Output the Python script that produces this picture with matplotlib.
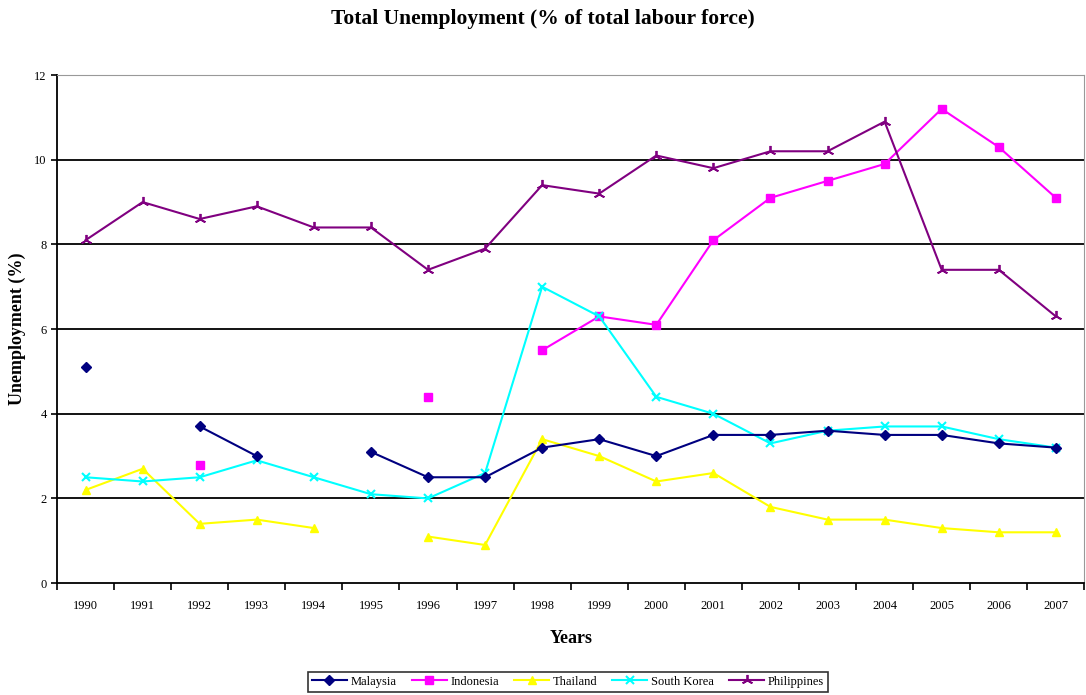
import numpy as np
import matplotlib
matplotlib.use('Agg')
import matplotlib.pyplot as plt

nan = np.nan

# Data
years = [str(y) for y in range(1990, 2008)]
malaysia    = [5.1, nan, 3.7, 3.0, nan, 3.1, 2.5, 2.5, 3.2, 3.4, 3.0, 3.5, 3.5, 3.6, 3.5, 3.5, 3.3, 3.2]
indonesia   = [nan, nan, 2.8, nan, nan, nan, 4.4, nan, 5.5, 6.3, 6.1, 8.1, 9.1, 9.5, 9.9, 11.2, 10.3, 9.1]
thailand    = [2.2, 2.7, 1.4, 1.5, 1.3, nan, 1.1, 0.9, 3.4, 3.0, 2.4, 2.6, 1.8, 1.5, 1.5, 1.3, 1.2, 1.2]
south_korea = [2.5, 2.4, 2.5, 2.9, 2.5, 2.1, 2.0, 2.6, 7.0, 6.3, 4.4, 4.0, 3.3, 3.6, 3.7, 3.7, 3.4, 3.2]
philippines = [8.1, 9.0, 8.6, 8.9, 8.4, 8.4, 7.4, 7.9, 9.4, 9.2, 10.1, 9.8, 10.2, 10.2, 10.9, 7.4, 7.4, 6.3]

plt.rcParams['font.family'] = ['Liberation Serif', 'DejaVu Serif']

fig = plt.figure(figsize=(10.86, 6.95), dpi=100)
ax = fig.add_axes([0.0525, 0.161, 0.946, 0.731])

x = np.arange(len(years))

# Series
ax.plot(x, malaysia, color='#000080', marker='D', markersize=5, lw=1.5, label='Malaysia', zorder=5)
ax.plot(x, indonesia, color='#FF00FF', marker='s', markersize=6, lw=1.5, label='Indonesia', zorder=4)
ax.plot(x, thailand, color='#FFFF00', marker='^', markersize=6, lw=1.5, label='Thailand', zorder=3)
ax.plot(x, south_korea, color='#00FFFF', marker='x', markersize=6, mew=1.5, lw=1.5, label='South Korea', zorder=4)
ax.plot(x, philippines, color='#800080', marker=(3, 2, 0), markersize=8, mew=1.3, lw=1.5, label='Philippines', zorder=5)

# Axes limits and grid
ax.set_xlim(-0.5, len(years) - 0.5)
ax.set_ylim(0, 12)
ax.set_yticks(range(0, 13, 2))
for yv in range(2, 12, 2):
    ax.axhline(yv, color='black', lw=1.3, zorder=1)

# Category labels in the middle, ticks at boundaries
ax.set_xticks(x)
ax.set_xticklabels(years, fontsize=9)
ax.set_xticks(np.arange(-0.5, len(years), 1), minor=True)
ax.tick_params(axis='x', which='major', length=0, pad=12)
ax.tick_params(axis='x', which='minor', length=5, width=1.2, direction='out')
ax.tick_params(axis='y', length=4, width=1.2, direction='out', labelsize=9)

# Spines
ax.spines['left'].set_linewidth(1.3)
ax.spines['bottom'].set_linewidth(1.3)
ax.spines['top'].set_color('#999999')
ax.spines['right'].set_color('#999999')

# Labels
ax.set_xlabel('Years', fontsize=13, fontweight='bold')
ax.xaxis.set_label_coords(0.5, -0.092)
ax.set_ylabel('Unemployment (%)', fontsize=13, fontweight='bold')
ax.yaxis.set_label_coords(-0.03, 0.5)
fig.text(0.5, 0.973, 'Total Unemployment (% of total labour force)',
         ha='center', va='center', fontsize=15.5, fontweight='bold')

# Legend
leg = fig.legend(loc='lower center', bbox_to_anchor=(0.523, -0.004), ncol=5,
                 frameon=True, fancybox=False, edgecolor='black',
                 fontsize=9, handlelength=2.8, columnspacing=1.2,
                 handletextpad=0.3, borderpad=0.3)
leg.get_frame().set_linewidth(1.2)

fig.savefig('out.png', dpi=100)
